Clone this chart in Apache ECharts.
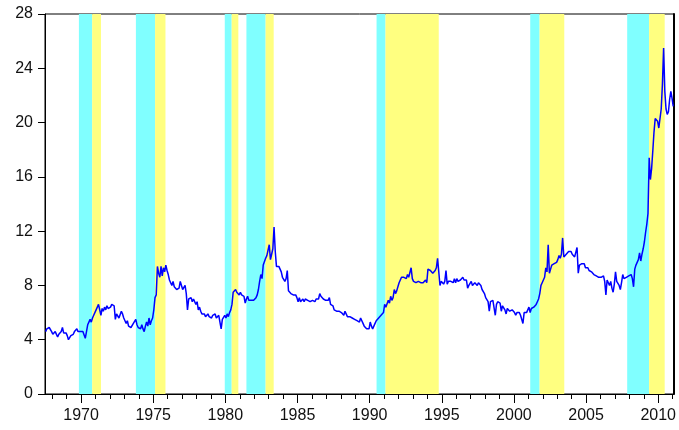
<!DOCTYPE html>
<html>
<head>
<meta charset="utf-8">
<script src="https://cdn.jsdelivr.net/npm/echarts@6/dist/echarts.min.js"></script>
<style>html,body{margin:0;padding:0;background:#fff}#c{width:679px;height:430px}</style>
</head>
<body>
<div id="c"></div>
<script>
// Monthly series, first observation July 1967
const startYear = 1967;
const startMonth = 7;
const values1960s = [4.6, 4.8, 4.7, 4.9, 5.0, 4.6,
  4.4, 4.3, 4.6, 4.5, 4.2, 4.4, 4.5, 4.6, 4.9, 4.5, 4.4, 4.5,
  4.3, 4.0, 4.1, 4.3, 4.4, 4.4, 4.6, 4.5, 4.8, 4.6, 4.7, 4.6];
const values1970s = [
  4.7, 4.6, 4.5, 4.1, 4.6, 5.1, 5.3, 5.5, 5.3, 5.6, 5.8, 5.9,
  6.2, 6.4, 6.6, 6.7, 5.8, 6.3, 6.1, 6.4, 6.2, 6.5, 6.3, 6.4,
  6.4, 6.6, 6.7, 6.5, 5.5, 5.9, 6.0, 5.6, 5.7, 6.1, 5.9, 5.6,
  5.4, 5.2, 5.4, 5.0, 5.1, 4.9, 5.0, 5.2, 5.3, 5.5, 5.1, 4.9,
  5.0, 4.8, 5.1, 4.8, 4.6, 5.0, 5.3, 5.0, 5.6, 5.1, 5.4, 5.6,
  6.2, 7.1, 7.3, 9.4, 8.9, 8.6, 9.4, 8.7, 9.3, 9.0, 9.5, 9.1,
  8.8, 8.4, 8.2, 8.0, 8.3, 7.9, 7.8, 7.7, 7.8, 7.8, 8.3, 8.0,
  7.7, 7.6, 8.0, 7.4, 6.2, 7.0, 6.9, 7.1, 6.8, 7.0, 6.9, 6.6,
  6.8, 6.2, 6.4, 6.1, 5.9, 5.8, 5.9, 5.7, 5.8, 5.9, 5.7, 5.8,
  5.6, 5.8, 5.7, 5.9, 5.6, 5.5, 5.8, 5.9, 4.8, 5.5, 5.4, 5.8];
const values1980s = [
  5.6, 5.9, 5.7, 6.0, 6.2, 6.6, 7.5, 7.6, 7.7, 7.5, 7.6, 7.3,
  7.5, 7.3, 7.4, 7.2, 6.7, 7.0, 7.2, 6.9, 6.8, 6.9, 6.8, 6.9,
  6.9, 7.1, 7.3, 7.7, 8.3, 8.8, 8.5, 9.5, 9.6, 10.0, 10.2, 10.3,
  11.0, 9.9, 10.3, 10.7, 12.3, 10.5, 9.4, 9.3, 9.4, 9.3, 9.0, 8.6,
  8.6, 8.3, 8.5, 9.1, 7.6, 7.5, 7.4, 7.5, 7.3, 7.2, 7.3, 7.1,
  6.8, 7.1, 6.8, 6.9, 7.0, 6.8, 7.0, 7.0, 6.9, 7.0, 6.8, 6.7,
  6.9, 6.8, 6.8, 7.0, 7.1, 7.0, 7.4, 7.2, 7.1, 7.0, 7.1, 6.9,
  7.0, 6.9, 7.1, 6.6, 6.6, 6.5, 6.2, 6.3, 6.1, 6.2, 6.1, 6.0,
  6.0, 5.9, 5.8, 6.1, 6.0, 5.7, 5.8, 5.7, 5.8, 5.6, 5.7, 5.5,
  5.5, 5.4, 5.5, 5.3, 5.6, 5.4, 5.2, 5.0, 4.9, 4.8, 4.9, 4.8];
const values1990s = [
  5.3, 5.0, 4.8, 5.0, 5.2, 5.4, 5.3, 5.6, 5.7, 5.8, 5.9, 6.0,
  6.6, 6.4, 6.5, 6.9, 6.7, 7.2, 6.9, 7.1, 7.7, 7.4, 7.6, 7.9,
  8.2, 8.4, 8.6, 8.7, 8.6, 8.7, 8.5, 8.8, 8.6, 8.7, 9.3, 8.5,
  8.3, 8.3, 8.2, 8.2, 8.3, 8.2, 8.2, 8.1, 8.2, 8.3, 8.4, 8.2,
  9.2, 9.3, 9.1, 9.2, 8.9, 9.0, 9.1, 9.3, 10.0, 9.0, 8.0, 8.3,
  8.2, 8.1, 8.3, 9.1, 8.1, 8.3, 8.4, 8.3, 8.3, 8.2, 8.5, 8.2,
  8.5, 8.3, 8.2, 8.4, 8.5, 8.6, 8.4, 8.3, 8.4, 7.8, 8.0, 8.1,
  8.3, 8.0, 8.1, 8.2, 8.1, 8.0, 8.2, 8.3, 8.0, 7.7, 7.6, 7.4,
  7.1, 7.0, 6.8, 6.1, 6.8, 6.7, 6.9, 6.9, 5.8, 6.6, 6.8, 6.8,
  6.7, 6.1, 6.5, 6.4, 6.2, 5.9, 6.3, 6.2, 6.1, 6.0, 6.2, 6.1];
const values2000s = [
  6.0, 5.8, 6.0, 6.1, 6.0, 5.8, 5.9, 5.2, 6.0, 6.1, 6.0, 5.9,
  6.4, 6.0, 6.3, 6.2, 6.4, 6.3, 6.6, 6.8, 7.0, 7.4, 8.0, 8.2,
  8.4, 8.6, 9.3, 9.0, 11.0, 8.9, 9.2, 9.5, 9.4, 9.6, 9.5, 9.7,
  9.9, 10.2, 10.0, 10.3, 11.5, 10.1, 10.2, 10.3, 10.4, 10.5, 10.4, 10.5,
  10.3, 10.4, 10.1, 10.2, 10.8, 8.9, 9.5, 9.4, 9.6, 9.7, 9.6, 9.3,
  9.4, 9.3, 9.1, 9.2, 9.0, 9.1, 8.8, 8.9, 8.7, 8.8, 8.6, 8.7,
  8.6, 8.5, 8.7, 8.3, 7.3, 8.4, 8.2, 8.0, 8.3, 7.8, 7.5, 8.1,
  9.0, 8.3, 8.2, 8.0, 7.7, 8.2, 8.8, 8.5, 8.4, 8.6, 8.5, 8.7,
  8.7, 8.8, 8.5, 7.9, 9.2, 9.5, 9.4, 9.9, 10.4, 9.8, 10.3, 10.7,
  11.2, 11.9, 12.5, 13.3, 17.4, 15.8, 16.6, 17.9, 19.3, 20.3, 20.3, 20.1];
const values2010s = [19.6, 20.3, 21.0, 22.8, 25.5, 22.3, 21.0, 20.6, 20.8, 21.7, 22.3, 21.8,
  21.2];

// Shaded periods (decimal years)
const recessionStart = [1969.85, 1973.80, 1979.96, 1981.46, 1990.48, 2001.13, 2007.85];
const recessionEnd   = [1970.77, 1975.13, 1980.44, 1982.79, 1991.10, 2001.78, 2009.37];
const recoveryEnd    = [1971.38, 1975.85, 1980.90, 1983.35, 1994.79, 2003.49, 2010.45];

// Axis ticks
const yTicks = [0, 4, 8, 12, 16, 20, 24, 28];
const xMajorTicks = [1970, 1975, 1980, 1985, 1990, 1995, 2000, 2005, 2010];
const xMinorTicks = [];
for (let y = 1968; y <= 2011; y++) xMinorTicks.push(y);
const xMin = 1967.5, xMax = 2011.0833;

const allValues = [].concat(values1960s, values1970s, values1980s, values1990s, values2000s, values2010s);
const seriesData = allValues.map((v, i) => [startYear + (startMonth - 1 + i + 0.5) / 12, v]);

const cyanAreas = recessionStart.map((s, i) => [{ xAxis: s, itemStyle: { color: '#80FFFF' } }, { xAxis: recessionEnd[i] }]);
const yellowAreas = recessionEnd.map((s, i) => [{ xAxis: s, itemStyle: { color: '#FFFF80' } }, { xAxis: recoveryEnd[i] }]);

const font = 'Liberation Sans, Arial, sans-serif';
const chart = echarts.init(document.getElementById('c'), null, { renderer: 'canvas' });
chart.setOption({
  animation: false,
  backgroundColor: '#fff',
  grid: { left: 45, right: 4, top: 14, bottom: 36, show: true, borderColor: '#000', borderWidth: 1, backgroundColor: 'transparent' },
  xAxis: [
    {
      type: 'value', min: xMin, max: xMax, position: 'bottom',
      axisLine: { show: true, lineStyle: { color: '#000', width: 1 } },
      axisTick: { show: true, length: 5, inside: false, customValues: xMinorTicks, lineStyle: { color: '#000' } },
      axisLabel: { show: false },
      splitLine: { show: false }
    },
    {
      type: 'value', min: xMin, max: xMax, position: 'bottom',
      axisLine: { show: false },
      axisTick: { show: true, length: 9, inside: false, customValues: xMajorTicks, lineStyle: { color: '#000' } },
      axisLabel: { show: true, customValues: xMajorTicks, formatter: v => String(Math.round(v)), color: '#111', fontFamily: font, fontSize: 16, margin: 14 },
      splitLine: { show: false }
    }
  ],
  yAxis: [
    {
      type: 'value', min: 0, max: 28, interval: 4, position: 'left',
      axisLine: { show: true, lineStyle: { color: '#000', width: 1 } },
      axisTick: { show: true, length: 7, inside: false, lineStyle: { color: '#000' } },
      axisLabel: { color: '#111', fontFamily: font, fontSize: 16, margin: 12, customValues: yTicks },
      splitLine: { show: false }
    },
    {
      type: 'value', min: 0, max: 28, position: 'right',
      axisLine: { show: true, lineStyle: { color: '#000', width: 2 } },
      axisTick: { show: false }, axisLabel: { show: false }, splitLine: { show: false }
    }
  ],
  series: [
    {
      type: 'line', data: [], z: 1, silent: true,
      markArea: { silent: true, data: cyanAreas.concat(yellowAreas) }
    },
    {
      type: 'line', data: seriesData, z: 3, showSymbol: false, symbol: 'none',
      lineStyle: { color: '#0000FF', width: 1.5 }, itemStyle: { color: '#0000FF' }
    }
  ]
});
</script>
</body>
</html>
